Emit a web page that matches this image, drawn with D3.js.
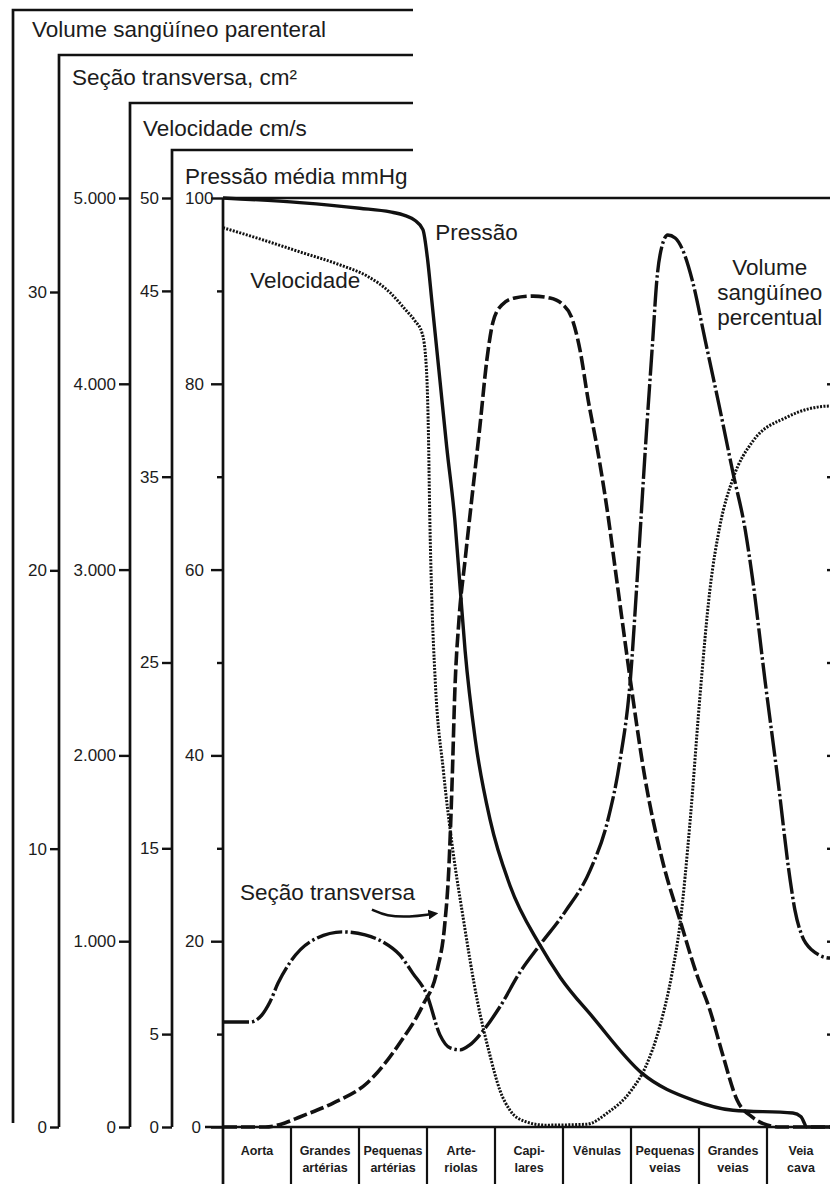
<!DOCTYPE html>
<html>
<head>
<meta charset="utf-8">
<script src="https://cdn.jsdelivr.net/npm/d3@7"></script>
<style>
  body { margin: 0; background: #fff; }
  svg { display: block; font-family: "Liberation Sans", Arial, sans-serif; }
  .titulo { font-size: 22.5px; fill: #1c1c1c; }
  .anot { font-size: 22.5px; fill: #1c1c1c; }
  .moldura { stroke: #111; stroke-width: 2.7; fill: none; }
  .curva { fill: none; stroke: #111; }
  .categoria { font-size: 12.5px; font-weight: bold; fill: #1c1c1c; }
</style>
</head>
<body>
<svg width="830" height="1184"></svg>
<script>
// Dados: posição ao longo da árvore vascular (0 = início da aorta,
// 1 unidade = uma coluna da tabela) e valor na unidade do eixo da curva.

const categorias = [
  ["Aorta"], ["Grandes", "artérias"], ["Pequenas", "artérias"], ["Arte-", "riolas"],
  ["Capi-", "lares"], ["Vênulas"], ["Pequenas", "veias"], ["Grandes", "veias"], ["Veia", "cava"]
];

// Pressão média, mmHg
const pressao = [
  [0, 100], [1.13, 99.5], [2.01, 98.9], [2.46, 98.5], [2.68, 98.1], [2.82, 97.6], [2.94, 96.6],
  [3.01, 93.3], [3.07, 89.0], [3.19, 80.4], [3.29, 73.2], [3.41, 65.3], [3.49, 57.8], [3.56, 51.3],
  [3.71, 41.7], [3.93, 33.0], [4.22, 26.0], [4.66, 19.6], [4.96, 16.1], [5.44, 11.8], [6.16, 5.8],
  [6.91, 2.9], [7.5, 1.8], [8.38, 1.5], [8.5, 1.1], [8.59, 0], [9, 0]
];

// Velocidade, cm/s
const velocidade = [
  [0, 48.4], [0.54, 47.8], [1.13, 47.1], [1.72, 46.4], [2.12, 45.8], [2.46, 44.9], [2.68, 44.0],
  [2.82, 43.4], [2.93, 42.7], [2.99, 40.9], [3.02, 37.5], [3.04, 33.0], [3.07, 28.5], [3.12, 24.1],
  [3.24, 19.2], [3.38, 14.9], [3.53, 11.3], [3.74, 6.8], [3.93, 3.8], [4.07, 2.0], [4.22, 0.9],
  [4.44, 0.3], [4.74, 0.1], [5.35, 0.15], [5.65, 0.75], [6.01, 2.0], [6.21, 3.2], [6.43, 5.5],
  [6.6, 8.2], [6.72, 10.9], [6.87, 16.5], [7.01, 23.0], [7.16, 28.9], [7.31, 32.4], [7.5, 34.9],
  [7.79, 36.9], [8.29, 38.2], [8.93, 38.8], [9, 38.8]
];

// Seção transversa, cm²
const secao = [
  [0, 0], [0.62, 0], [0.91, 22], [1.13, 54], [1.62, 129], [2.12, 237], [2.6, 452], [2.94, 657],
  [3.15, 845], [3.26, 1087], [3.32, 1383], [3.37, 1867], [3.41, 2352], [3.47, 2729], [3.56, 3051],
  [3.66, 3385], [3.78, 3778], [3.88, 4128], [3.97, 4332], [4.1, 4424], [4.29, 4462], [4.56, 4472],
  [4.81, 4462], [4.99, 4429], [5.13, 4354], [5.25, 4182], [5.37, 3913], [5.5, 3660], [5.65, 3321],
  [5.79, 2944], [5.99, 2406], [6.21, 1868], [6.46, 1437], [6.72, 1114], [6.97, 818], [7.16, 630],
  [7.35, 387], [7.56, 145], [7.78, 54], [8.0, 11], [8.19, 0], [9, 0]
];

// Volume sangüíneo percentual, %
const volume = [
  [0, 3.77], [0.4, 3.77], [0.57, 4.02], [0.69, 4.49], [0.81, 5.17], [0.99, 5.93], [1.28, 6.65],
  [1.76, 7.01], [2.09, 6.9], [2.35, 6.65], [2.6, 6.18], [2.79, 5.53], [3.0, 4.74], [3.19, 3.31],
  [3.34, 2.84], [3.49, 2.77], [3.63, 2.95], [3.81, 3.41], [4.07, 4.31], [4.37, 5.57], [4.66, 6.54],
  [5.03, 7.73], [5.4, 9.23], [5.66, 11.03], [5.84, 13.19], [5.99, 16.06], [6.09, 19.65], [6.21, 24.33],
  [6.32, 28.28], [6.38, 30.43], [6.46, 31.69], [6.54, 32.05], [6.65, 31.94], [6.76, 31.51], [6.9, 30.43],
  [7.09, 28.28], [7.31, 25.76], [7.5, 23.5], [7.68, 21.45], [7.79, 19.65], [7.97, 16.06], [8.16, 12.47],
  [8.34, 8.88], [8.41, 7.8], [8.51, 6.9], [8.66, 6.36], [8.93, 6.07], [9, 6.07]
];

// marcas dos eixos
const ticksVolume = [0, 10, 20, 30];
const ticksSecao = [0, 1000, 2000, 3000, 4000, 5000];
const ticksVelocidade = [0, 5, 15, 25, 35, 45, 50];
const ticksPressao = [0, 20, 40, 60, 80, 100];
const ticksPressaoMenor = [10, 30, 50, 70, 90];
const ticksDireita = [10, 20, 30, 40, 50, 60, 70, 80];

// ---------- layout ----------
const yTopo = 198, yBase = 1127, xEixo = 223, fimMolduras = 413;

const molduras = [
  { titulo: "Volume sangüíneo parenteral", x: 13, y: 10, fim: 1123, tx: 32, ty: 37 },
  { titulo: "Seção transversa, cm²", x: 59, y: 55, fim: 1127, tx: 72, ty: 85 },
  { titulo: "Velocidade cm/s", x: 130, y: 103, fim: 1127, tx: 143, ty: 136 },
  { titulo: "Pressão média mmHg", x: 172, y: 150, fim: 1127, tx: 185, ty: 184 }
];

const svg = d3.select("svg");

const x = d3.scaleLinear().domain([0, 9]).range([xEixo, xEixo + 9 * 68]);
const faixa = d3.scaleBand().domain(d3.range(categorias.length)).range(x.range());
const yPressao = d3.scaleLinear().domain([0, 100]).range([yBase, yTopo]);
const yVelocidade = d3.scaleLinear().domain([0, 50]).range([yBase, yTopo]);
const ySecao = d3.scaleLinear().domain([0, 5000]).range([yBase, yTopo]);
const yVolume = d3.scaleLinear().domain([0, 30]).range([yBase, 292]);

const ptBR = d3.formatLocale({ decimal: ",", thousands: ".", grouping: [3], currency: ["", ""] });

// molduras com títulos
svg.selectAll("path.moldura")
  .data(molduras)
  .join("path")
  .attr("class", "moldura")
  .attr("d", d => `M${d.x},${d.fim}V${d.y}H${fimMolduras}`);

svg.selectAll("text.titulo")
  .data(molduras)
  .join("text")
  .attr("class", "titulo")
  .attr("x", d => d.tx)
  .attr("y", d => d.ty)
  .text(d => d.titulo);

// topo da área do gráfico, eixo vertical principal e linha de base
svg.append("path").attr("class", "moldura")
  .attr("d", `M${xEixo},${yTopo}H${x(9)}`);
svg.append("path").attr("class", "moldura")
  .attr("d", `M${xEixo},${yTopo}V1184`);
svg.append("path").attr("class", "moldura")
  .attr("d", `M205,${yBase}H${x(9)}`);

function eixo(escala, valores, tamanho, padding, formato, posX) {
  let g = svg.append("g")
    .attr("transform", `translate(${posX},0)`)
    .call(d3.axisLeft(escala)
      .tickValues(valores)
      .tickSize(tamanho)
      .tickPadding(padding)
      .tickFormat(formato));
  g.select(".domain").remove();
  g.attr("font-family", null).attr("font-size", null);
  g.selectAll(".tick line").attr("stroke", "#111").attr("stroke-width", 2.4);
  g.selectAll(".tick text").attr("fill", "#1c1c1c").style("font-size", "17px");
  return g;
}

eixo(yVolume, ticksVolume, 9, 3, d3.format("d"), 59);
eixo(ySecao, ticksSecao, 11, 3, ptBR.format(","), 130);
eixo(yVelocidade, ticksVelocidade, 10, 3, d3.format("d"), 172);
let gPressao = eixo(yPressao, ticksPressao, 12, 2, d3.format("d"), xEixo);
// os rótulos da pressão ficam alinhados à esquerda
gPressao.selectAll(".tick text")
  .filter(d => d > 0)
  .attr("text-anchor", "start")
  .attr("x", -38);
gPressao.selectAll(".tick text")
  .filter(d => d === 0)
  .attr("x", -22);
eixo(yPressao, ticksPressaoMenor, 6, 2, () => "", xEixo);
eixo(yPressao, ticksDireita, 8, 2, () => "", x(9));

// tabela das categorias
svg.selectAll("line.divisoria")
  .data(d3.range(1, categorias.length))
  .join("line")
  .attr("class", "divisoria")
  .attr("x1", d => faixa(d)).attr("x2", d => faixa(d))
  .attr("y1", yBase).attr("y2", 1184)
  .attr("stroke", "#111").attr("stroke-width", 2.2);

svg.selectAll("text.categoria")
  .data(categorias)
  .join("text")
  .attr("class", "categoria")
  .attr("text-anchor", "middle")
  .attr("transform", (d, i) => `translate(${faixa(i) + faixa.bandwidth() / 2},1155)`)
  .selectAll("tspan")
  .data(d => d)
  .join("tspan")
  .attr("x", 0)
  .attr("y", (d, i) => i * 17)
  .text(d => d);

// curvas
function curva(dados, escalaY, largura, tracos) {
  svg.append("path")
    .datum(dados)
    .attr("class", "curva")
    .attr("stroke-width", largura)
    .attr("stroke-dasharray", tracos)
    .attr("d", d3.line()
      .x(d => x(d[0]))
      .y(d => escalaY(d[1]))
      .curve(d3.curveMonotoneX));
}

curva(secao, ySecao, 3.6, "14,4");
curva(volume, yVolume, 3.4, "26,3,2.5,3");
curva(velocidade, yVelocidade, 3, "2,1.4");
curva(pressao, yPressao, 3.4, null);

// rótulos dentro do gráfico (posição em unidades do eixo de pressão)
const rotulos = [
  { linhas: ["Pressão"], pos: 3.12, valor: 95.5, anchor: "start" },
  { linhas: ["Velocidade"], pos: 0.4, valor: 90.3, anchor: "start" },
  { linhas: ["Seção transversa"], pos: 0.25, valor: 24.4, anchor: "start" },
  { linhas: ["Volume", "sangüíneo", "percentual"], pos: 8.04, valor: 91.7, anchor: "middle" }
];

svg.selectAll("text.anot")
  .data(rotulos)
  .join("text")
  .attr("class", "anot")
  .attr("text-anchor", d => d.anchor)
  .attr("transform", d => `translate(${x(d.pos)},${yPressao(d.valor)})`)
  .selectAll("tspan")
  .data(d => d.linhas)
  .join("tspan")
  .attr("x", 0)
  .attr("y", (d, i) => i * 25)
  .text(d => d);

// seta apontando para a curva da seção transversa
svg.append("defs").append("marker")
  .attr("id", "ponta")
  .attr("viewBox", "0 0 10 10")
  .attr("refX", 2).attr("refY", 5)
  .attr("markerWidth", 4).attr("markerHeight", 4)
  .attr("markerUnits", "strokeWidth")
  .attr("orient", "auto")
  .append("path")
  .attr("d", "M0,0L10,5L0,10Z")
  .attr("fill", "#111");

const seta = [[2.19, 23.4], [2.4, 22.7], [2.75, 22.6], [3.05, 22.9]];
svg.append("path")
  .datum(seta)
  .attr("fill", "none")
  .attr("stroke", "#111")
  .attr("stroke-width", 2.5)
  .attr("marker-end", "url(#ponta)")
  .attr("d", d3.line()
    .x(d => x(d[0]))
    .y(d => yPressao(d[1]))
    .curve(d3.curveBasis));
</script>
</body>
</html>
